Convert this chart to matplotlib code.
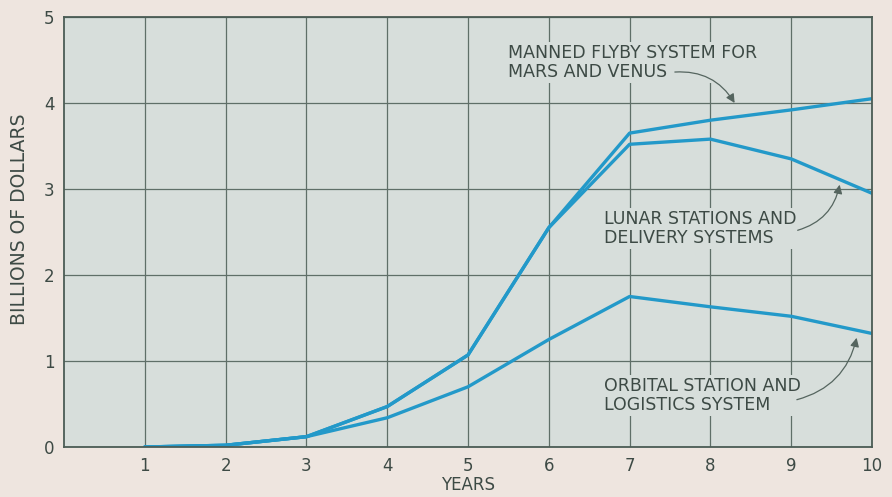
import matplotlib.pyplot as plt
import numpy as np

years = [1, 2, 3, 4, 5, 6, 7, 8, 9, 10]
flyby = [0.0, 0.02, 0.12, 0.47, 1.07, 2.55, 3.65, 3.80, 3.92, 4.05]
lunar = [0.0, 0.02, 0.12, 0.47, 1.07, 2.55, 3.52, 3.58, 3.35, 2.95]
orbital = [0.0, 0.02, 0.12, 0.34, 0.70, 1.25, 1.75, 1.63, 1.52, 1.32]

bg = '#eee5df'
face = '#d7dedb'
ink = '#3d4a45'
grid = '#5f6f68'
blue = '#2399c9'

fig = plt.figure(figsize=(8.92, 4.97), dpi=100, facecolor=bg)
ax = fig.add_axes([64 / 892, 50 / 497, 808 / 892, 430 / 497])
ax.set_facecolor(face)

ax.plot(years, orbital, color=blue, lw=2.4, solid_capstyle='round')
ax.plot(years, lunar, color=blue, lw=2.4, solid_capstyle='round')
ax.plot(years, flyby, color=blue, lw=2.4, solid_capstyle='round')

ax.set_xlim(0, 10)
ax.set_ylim(0, 5)
ax.set_xticks(range(1, 11))
ax.set_yticks(range(0, 6))
ax.grid(True, color=grid, lw=0.9)
ax.set_axisbelow(True)
ax.tick_params(length=0, colors=ink, labelsize=12, pad=7)
for s in ax.spines.values():
    s.set_color('#4b5c55')
    s.set_linewidth(1.3)

ax.set_xlabel('YEARS', color=ink, fontsize=12, labelpad=1)
ax.set_ylabel('BILLIONS OF DOLLARS', color=ink, fontsize=13.5)
ax.yaxis.set_label_coords(-0.043, 0.53)

# labels sit on a patch of the plot colour so the grid breaks around them
box = dict(facecolor=face, edgecolor='none', pad=1.5)
txt = dict(fontsize=12.5, color=ink, linespacing=1.1, ha='left', va='center', bbox=box)
ax.text(5.5, 4.47, 'MANNED FLYBY SYSTEM FOR\nMARS AND VENUS', **txt)
ax.text(6.68, 2.54, 'LUNAR STATIONS AND\nDELIVERY SYSTEMS', **txt)
ax.text(6.68, 0.6, 'ORBITAL STATION AND\nLOGISTICS SYSTEM', **txt)

arrow = dict(arrowstyle='-|>', color='#55655f', lw=0.9, mutation_scale=13, shrinkA=0, shrinkB=0)
ax.annotate('', xy=(8.30, 4.00), xytext=(7.56, 4.36),
            arrowprops=dict(arrow, connectionstyle='arc3,rad=-0.3'))
ax.annotate('', xy=(9.60, 3.05), xytext=(9.08, 2.52),
            arrowprops=dict(arrow, connectionstyle='arc3,rad=0.3'))
ax.annotate('', xy=(9.81, 1.27), xytext=(9.07, 0.55),
            arrowprops=dict(arrow, connectionstyle='arc3,rad=0.3'))

fig.savefig('out.png', dpi=100, facecolor=bg)
